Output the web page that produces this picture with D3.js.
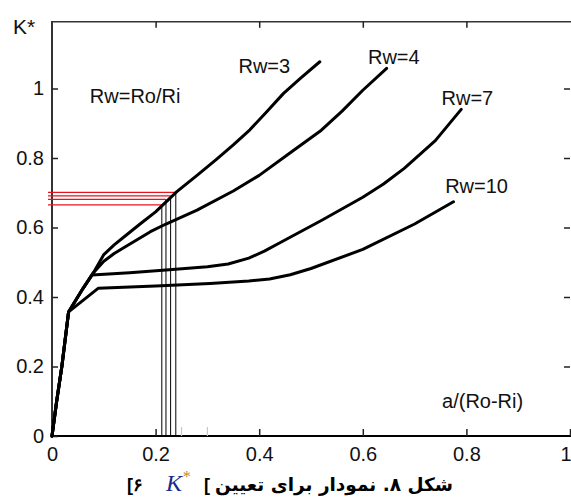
<!DOCTYPE html>
<html>
<head>
<meta charset="utf-8">
<script src="https://cdn.jsdelivr.net/npm/d3@7"></script>
<style>
  html, body { margin: 0; padding: 0; background: #fff; overflow: hidden; }
  svg { display: block; }
</style>
</head>
<body>
<script>
// ---- data ----
const xTicks = [0, 0.2, 0.4, 0.6, 0.8, 1];
const yTicks = [0, 0.2, 0.4, 0.6, 0.8, 1];
const seriesNames = ["Rw=3", "Rw=4", "Rw=7", "Rw=10"];
const rw3 = [[0,0],[0.009,0.1],[0.019,0.2],[0.032,0.357],[0.06,0.425],[0.08,0.47],[0.1,0.522],[0.12,0.55],[0.14,0.574],[0.17,0.61],[0.2,0.645],[0.241,0.703],[0.28,0.75],[0.318,0.797],[0.35,0.838],[0.382,0.881],[0.415,0.934],[0.447,0.986],[0.48,1.03],[0.517,1.077]];
const rw4 = [[0,0],[0.009,0.1],[0.019,0.2],[0.032,0.357],[0.06,0.425],[0.08,0.47],[0.1,0.503],[0.12,0.525],[0.14,0.543],[0.19,0.588],[0.22,0.61],[0.28,0.65],[0.35,0.705],[0.4,0.75],[0.46,0.815],[0.52,0.88],[0.56,0.935],[0.6,0.995],[0.646,1.058]];
const rw7 = [[0,0],[0.009,0.1],[0.019,0.2],[0.032,0.357],[0.06,0.425],[0.077,0.463],[0.15,0.47],[0.22,0.478],[0.3,0.487],[0.34,0.495],[0.38,0.512],[0.41,0.532],[0.44,0.556],[0.52,0.62],[0.6,0.687],[0.64,0.725],[0.68,0.77],[0.74,0.85],[0.79,0.94]];
const rw10 = [[0,0],[0.009,0.1],[0.019,0.2],[0.032,0.357],[0.089,0.425],[0.2,0.432],[0.305,0.439],[0.38,0.446],[0.42,0.452],[0.46,0.464],[0.5,0.482],[0.6,0.537],[0.7,0.61],[0.775,0.674]];
const readX = [0.212, 0.220, 0.229, 0.239];
const readY = [0.665, 0.681, 0.691, 0.701];
const minorTicks = [0.25, 0.3];
const seriesLabels = [
  {t: "Rw=3", x: 0.36, y: 1.045},
  {t: "Rw=4", x: 0.61, y: 1.07},
  {t: "Rw=7", x: 0.752, y: 0.952},
  {t: "Rw=10", x: 0.759, y: 0.7},
  {t: "Rw=Ro/Ri", x: 0.073, y: 0.958},
  {t: "a/(Ro-Ri)", x: 0.753, y: 0.08}
];
const series = [rw3, rw4, rw7, rw10];

// ---- chart ----
const W = 571, H = 500;
const svg = d3.select("body").append("svg").attr("width", W).attr("height", H);
const x = d3.scaleLinear().domain([0, 1]).range([52, 570]);
const y = d3.scaleLinear().domain([0, 1]).range([436, 88.5]);
const yTop = 1.192;
const FONT = "'Liberation Sans', Arial, sans-serif";

// frame
svg.append("line").attr("x1", x(0)).attr("x2", W).attr("y1", y(yTop)).attr("y2", y(yTop))
  .attr("stroke", "#333").attr("stroke-width", 1.6);
svg.append("line").attr("x1", x(0)).attr("x2", x(0)).attr("y1", y(yTop)-0.8).attr("y2", y(0))
  .attr("stroke", "#333").attr("stroke-width", 2);
svg.append("line").attr("x1", x(0)).attr("x2", W).attr("y1", y(0)).attr("y2", y(0))
  .attr("stroke", "#000").attr("stroke-width", 2.2);

// minor grey ticks
svg.selectAll(".minor").data(minorTicks).join("line")
  .attr("x1", d => x(d)).attr("x2", d => x(d)).attr("y1", y(0)).attr("y2", y(0) - 9)
  .attr("stroke", "#c8c8c8").attr("stroke-width", 1.2);

function styleAxis(g, showText) {
  g.select(".domain").remove();
  g.selectAll(".tick line").attr("stroke", "#222").attr("stroke-width", 1.5);
  g.selectAll(".tick text").attr("fill", "#111").style("font-family", FONT).style("font-size", "20px");
  if (!showText) g.selectAll(".tick text").remove();
}
const fmt = d3.format("~g");
svg.append("g").attr("transform", `translate(${x(0)},0)`)
  .call(d3.axisLeft(y).tickValues(yTicks).tickFormat(fmt).tickSizeInner(-6).tickSizeOuter(0).tickPadding(8))
  .call(g => styleAxis(g, true));
svg.append("g").attr("transform", `translate(0,${y(0)})`)
  .call(d3.axisBottom(x).tickValues(xTicks).tickFormat(fmt).tickSizeInner(-7).tickSizeOuter(0).tickPadding(11))
  .call(g => {
    styleAxis(g, true);
    // keep the last (edge) label inside the window
    g.selectAll(".tick text").filter(d => d === 1).attr("text-anchor", "end").attr("dx", 1);
  });
svg.append("g").attr("transform", `translate(0,${y(yTop)})`)
  .call(d3.axisTop(x).tickValues(xTicks.slice(1, -1)).tickSizeInner(-6).tickSizeOuter(0))
  .call(g => styleAxis(g, false));
svg.append("g").attr("transform", `translate(${x(1)},0)`)
  .call(d3.axisRight(y).tickValues(yTicks.slice(1)).tickSizeInner(-6).tickSizeOuter(0))
  .call(g => styleAxis(g, false));

// reading lines
const readG = svg.append("g");
readX.forEach((xv, i) => {
  readG.append("line").attr("x1", x(xv)).attr("x2", x(xv)).attr("y1", y(0)).attr("y2", y(readY[i]))
    .attr("stroke", "#000").attr("stroke-width", 1);
  readG.append("line").attr("x1", x(0) - 4).attr("x2", x(xv)).attr("y1", y(readY[i])).attr("y2", y(readY[i]))
    .attr("stroke", "#e8141c").attr("stroke-width", 1.3);
});

// curves
const line = d3.line().x(d => x(d[0])).y(d => y(d[1])).curve(d3.curveLinear);
svg.selectAll(".curve").data(series).join("path")
  .attr("d", line).attr("fill", "none").attr("stroke", "#000")
  .attr("stroke-width", 3).attr("stroke-linejoin", "round").attr("stroke-linecap", "round");

// labels
svg.selectAll(".lbl").data(seriesLabels).join("text")
  .attr("x", d => x(d.x)).attr("y", d => y(d.y))
  .style("font-family", FONT).style("font-size", "20px").attr("fill", "#111")
  .text(d => d.t);

// y title
svg.append("text").attr("x", 13).attr("y", 34)
  .style("font-family", FONT).style("font-size", "21px").attr("fill", "#111").text("K*");

// caption
const cap = svg.append("g").attr("font-weight", "bold").attr("fill", "#000");
cap.append("text").attr("x", 453).attr("y", 491).attr("text-anchor", "end")
  .style("font-family", "'DejaVu Sans', sans-serif").style("font-size", "18.5px")
  .text("شکل ۸. نمودار برای تعیین");
cap.append("text").attr("x", 127).attr("y", 491).attr("direction", "ltr")
  .style("font-family", FONT).style("font-size", "18px")
  .text("[۶");
const kt = cap.append("text").attr("x", 166).attr("y", 491)
  .style("font-family", "'Liberation Serif', serif").style("font-size", "24px")
  .attr("font-weight", "normal").attr("font-style", "italic").attr("fill", "#1a2a8a");
kt.append("tspan").text("K");
kt.append("tspan").attr("dy", -9).attr("font-size", "16px").attr("fill", "#c09020").text("*");
cap.append("text").attr("x", 204).attr("y", 491).attr("direction", "ltr")
  .style("font-family", FONT).style("font-size", "18px")
  .text("[");
</script>
</body>
</html>
